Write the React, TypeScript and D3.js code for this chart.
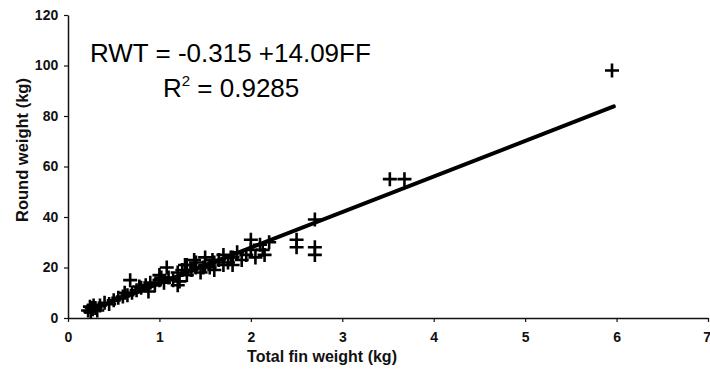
import { useEffect, useRef } from "react";
import * as d3 from "d3";

// total fin weight (kg) vs round weight (kg)
const finWeight = [
  0.22, 0.24, 0.25, 0.26, 0.27, 0.28, 0.3, 0.32, 0.35, 0.4, 0.45, 0.5, 0.55, 0.6, 0.62,
  0.65, 0.68, 0.7, 0.75, 0.78, 0.8, 0.85, 0.88, 0.9, 0.95, 1.0, 1.0, 1.02, 1.05, 1.08,
  1.1, 1.15, 1.2, 1.2, 1.22, 1.25, 1.28, 1.3, 1.3, 1.35, 1.38, 1.4, 1.4, 1.45, 1.48,
  1.5, 1.5, 1.55, 1.58, 1.6, 1.6, 1.65, 1.7, 1.7, 1.75, 1.78, 1.8, 1.8, 1.85, 1.9,
  1.95, 2.0, 2.0, 2.05, 2.1, 2.13, 2.15, 2.2, 2.5, 2.5, 2.7, 2.7, 2.7, 3.52, 3.68, 5.95,
];
const roundWeight = [
  3, 4.5, 2.5, 4, 3.5, 5, 4, 3, 5, 6, 5.5, 7, 8, 8.5, 10,
  9, 15, 10, 11, 12.5, 12, 13, 10.5, 14, 13, 15, 17, 16, 14, 20,
  16, 15, 18, 13, 14.5, 19, 21, 17, 21, 19, 23, 20, 22, 18, 20,
  21, 24, 20, 23, 22, 19, 23, 21, 25, 22, 24, 24, 21, 26, 23,
  25, 31, 27, 24, 29, 27, 25, 30, 31, 28, 28, 25, 39, 55, 55, 98,
];
const xTicks = [0, 1, 2, 3, 4, 5, 6, 7];
const yTicks = [0, 20, 40, 60, 80, 100, 120];
const intercept = -0.315;
const slope = 14.09;
const fitRange = [0.19, 5.97];

const W = 710;
const H = 376;

export default function App() {
  const svgRef = useRef<SVGSVGElement>(null);

  useEffect(() => {
    if (!svgRef.current) return;
    const svg = d3.select(svgRef.current);
    svg.selectAll("*").remove();

    const x = d3.scaleLinear().domain([0, 7]).range([68, 708]);
    const y = d3.scaleLinear().domain([0, 120]).range([318, 15]);

    const font = "Liberation Sans, Arial, sans-serif";

    // x axis
    const xAxis = svg
      .append("g")
      .attr("transform", `translate(0,${y(0)})`)
      .call(
        d3.axisBottom(x).tickValues(xTicks).tickFormat(d3.format("d")).tickSize(4).tickSizeOuter(0)
      );
    // y axis
    const yAxis = svg
      .append("g")
      .attr("transform", `translate(${x(0)},0)`)
      .call(
        d3.axisLeft(y).tickValues(yTicks).tickFormat(d3.format("d")).tickSize(4).tickSizeOuter(0)
      );

    [xAxis, yAxis].forEach((a) => {
      a.select(".domain").attr("stroke", "#111").attr("stroke-width", 1.5);
      a.selectAll(".tick line").attr("stroke", "#111").attr("stroke-width", 1.2);
      a.selectAll(".tick text")
        .attr("fill", "#111")
        .attr("font-family", font)
        .attr("font-size", 14)
        .attr("font-weight", "bold");
    });
    xAxis.selectAll(".tick text").attr("dy", "1.2em");
    xAxis.selectAll<SVGTextElement, number>(".tick text").filter((d) => d === 7).attr("dx", "-0.1em");
    yAxis.selectAll(".tick text").attr("dx", "-0.2em");

    // fitted line
    const line = d3
      .line<number>()
      .x((d) => x(d))
      .y((d) => y(intercept + slope * d));
    svg
      .append("path")
      .datum(fitRange)
      .attr("d", line)
      .attr("fill", "none")
      .attr("stroke", "#000")
      .attr("stroke-width", 4)
      .attr("stroke-linecap", "round");

    // data points as "+" markers
    const pts = finWeight.map((f, i) => [f, roundWeight[i]]);
    const s = 7;
    svg
      .append("g")
      .selectAll("path")
      .data(pts)
      .join("path")
      .attr(
        "d",
        (d) =>
          `M${x(d[0]) - s},${y(d[1])}h${2 * s}M${x(d[0])},${y(d[1]) - s}v${2 * s}`
      )
      .attr("stroke", "#000")
      .attr("stroke-width", 2.6)
      .attr("fill", "none");

    // equation text
    svg
      .append("text")
      .attr("x", 90)
      .attr("y", 62)
      .attr("font-family", font)
      .attr("font-size", 26)
      .attr("fill", "#000")
      .text("RWT = -0.315 +14.09FF");
    const r2 = svg
      .append("text")
      .attr("x", 163)
      .attr("y", 97)
      .attr("font-family", font)
      .attr("font-size", 26)
      .attr("fill", "#000");
    r2.append("tspan").text("R");
    r2.append("tspan").attr("font-size", 15).attr("dy", -11).text("2");
    r2.append("tspan").attr("dy", 11).text(" = 0.9285");

    // axis titles
    svg
      .append("text")
      .attr("x", 322)
      .attr("y", 362)
      .attr("text-anchor", "middle")
      .attr("font-family", font)
      .attr("font-size", 16)
      .attr("font-weight", "bold")
      .attr("fill", "#111")
      .text("Total fin weight (kg)");
    svg
      .append("text")
      .attr("transform", `translate(28,150) rotate(-90)`)
      .attr("text-anchor", "middle")
      .attr("font-family", font)
      .attr("font-size", 16.5)
      .attr("font-weight", "bold")
      .attr("fill", "#111")
      .text("Round weight (kg)");
  }, []);

  return (
    <svg
      ref={svgRef}
      width={W}
      height={H}
      style={{ position: "absolute", left: 0, top: 0, background: "#fff" }}
    />
  );
}
